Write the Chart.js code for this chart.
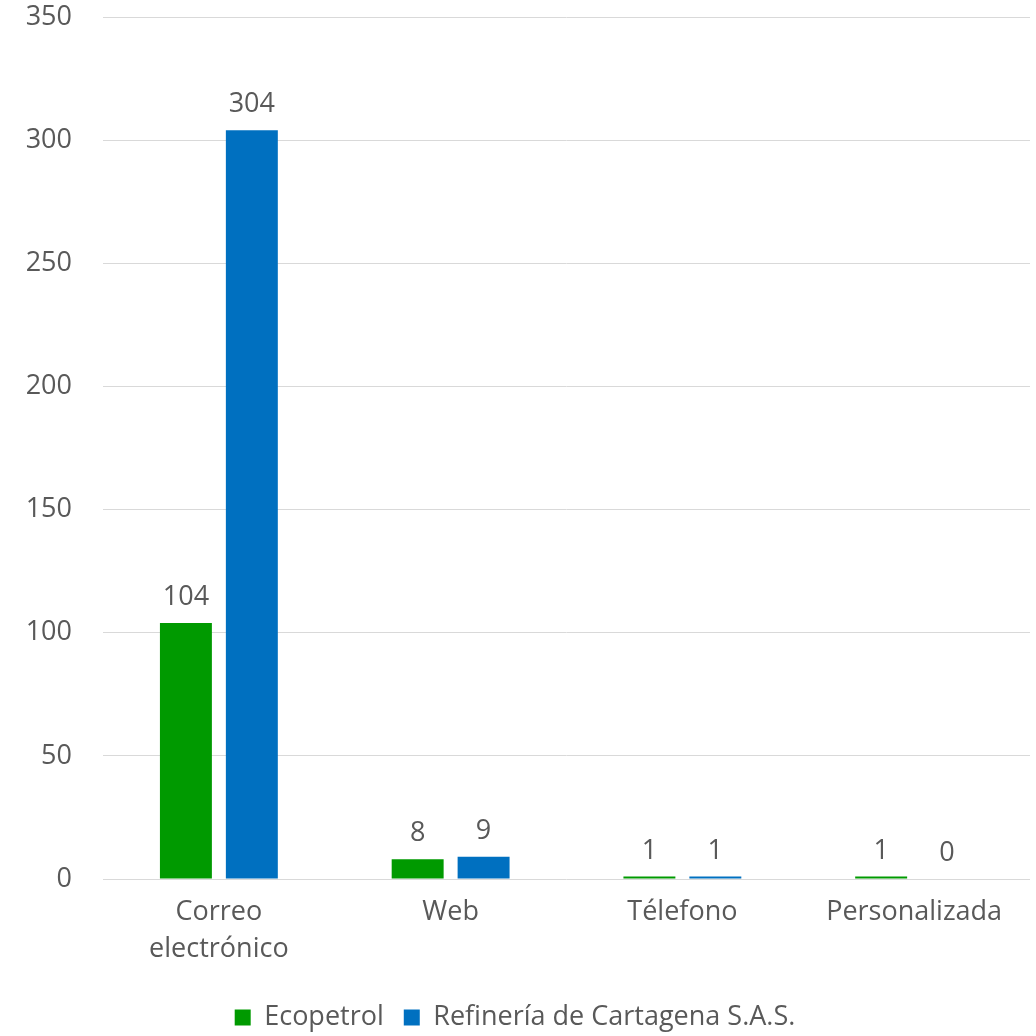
<!DOCTYPE html>
<html><head><meta charset="utf-8">
<script src="https://cdn.jsdelivr.net/npm/chart.js@4"></script>
<style>html,body{margin:0;padding:0;background:#fff}#wrap{width:1036px;height:1036px}</style>
</head><body><div id="wrap"><canvas id="c" width="1036" height="1036"></canvas></div>
<script>
const categories = [['Correo','electrónico'], 'Web', 'Télefono', 'Personalizada'];
const ecopetrol = [104, 8, 1, 1];
const refineria = [304, 9, 1, 0];
const seriesNames = ['Ecopetrol', 'Refinería de Cartagena S.A.S.'];
const yTicks = [0, 50, 100, 150, 200, 250, 300, 350];

const FONT = "'Open Sans', sans-serif";
const FS = 27;
const TXT = '#595959';

const valueLabels = {
  id: 'valueLabels',
  afterDatasetsDraw(chart) {
    const ctx = chart.ctx;
    ctx.save();
    ctx.font = `${FS}px ${FONT}`;
    ctx.fillStyle = TXT;
    ctx.textAlign = 'center';
    ctx.textBaseline = 'alphabetic';
    chart.data.datasets.forEach((ds, i) => {
      const meta = chart.getDatasetMeta(i);
      meta.data.forEach((bar, j) => {
        ctx.fillText(String(ds.data[j]), bar.x, bar.y - 18);
      });
    });
    ctx.restore();
  }
};

new Chart(document.getElementById('c'), {
  type: 'bar',
  data: {
    labels: categories,
    datasets: [
      { label: seriesNames[0], data: ecopetrol, backgroundColor: '#009A00', barPercentage: 0.788, categoryPercentage: 0.569 },
      { label: seriesNames[1], data: refineria, backgroundColor: '#0070C0', barPercentage: 0.788, categoryPercentage: 0.569 }
    ]
  },
  options: {
    responsive: false,
    animation: false,
    devicePixelRatio: 1,
    layout: { padding: { top: 17, right: 6, left: 0, bottom: -5 } },
    plugins: {
      tooltip: { enabled: false },
      legend: {
        position: 'bottom',
        labels: { font: { family: FONT, size: FS }, color: TXT, boxWidth: 16, boxHeight: 16, padding: 20 }
      }
    },
    scales: {
      x: {
        grid: { display: false },
        border: { display: false },
        afterFit(axis) { axis.height += 9; axis.paddingTop = 0; axis.paddingBottom = 0; },
        ticks: { font: { family: FONT, size: FS, lineHeight: 1.37 }, color: TXT, padding: 7, maxRotation: 0 }
      },
      y: {
        min: 0, max: 350,
        afterBuildTicks(axis) { axis.ticks = yTicks.map(v => ({ value: v })); },
        afterFit(axis) { axis.width = 103; axis.paddingTop = 0; axis.paddingBottom = 0; },
        grid: { color: '#D9D9D9', lineWidth: 1, drawTicks: false },
        border: { display: false },
        ticks: { font: { family: FONT, size: FS }, color: TXT, padding: 31 }
      }
    }
  },
  plugins: [valueLabels]
});
</script></body></html>
